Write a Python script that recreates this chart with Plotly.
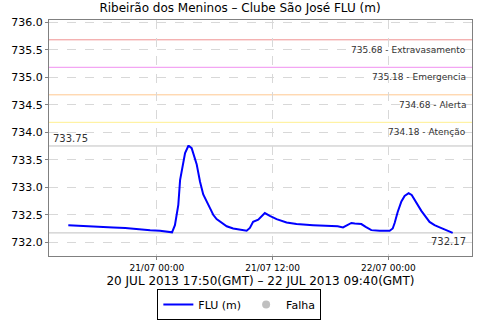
import plotly.graph_objects as go

# Local time (GMT-3) timestamps and FLU levels (m)
times = [
    "2013-07-20 14:50", "2013-07-20 15:45", "2013-07-20 17:37", "2013-07-20 19:29",
    "2013-07-20 20:44", "2013-07-20 22:16", "2013-07-20 23:19", "2013-07-21 00:20",
    "2013-07-21 00:58", "2013-07-21 01:23", "2013-07-21 01:35", "2013-07-21 01:53",
    "2013-07-21 02:04", "2013-07-21 02:14", "2013-07-21 02:25", "2013-07-21 02:41",
    "2013-07-21 02:56", "2013-07-21 03:16", "2013-07-21 03:20", "2013-07-21 03:37",
    "2013-07-21 03:58", "2013-07-21 04:08", "2013-07-21 04:29", "2013-07-21 04:49",
    "2013-07-21 05:31", "2013-07-21 05:51", "2013-07-21 06:12", "2013-07-21 06:53",
    "2013-07-21 07:15", "2013-07-21 07:55", "2013-07-21 08:37", "2013-07-21 09:08",
    "2013-07-21 09:19", "2013-07-21 09:39", "2013-07-21 09:59", "2013-07-21 10:31",
    "2013-07-21 10:58", "2013-07-21 11:12", "2013-07-21 11:43", "2013-07-21 12:25",
    "2013-07-21 13:27", "2013-07-21 14:29", "2013-07-21 16:12", "2013-07-21 17:56",
    "2013-07-21 18:45", "2013-07-21 19:18", "2013-07-21 20:10", "2013-07-21 20:31",
    "2013-07-21 21:12", "2013-07-21 21:39", "2013-07-21 22:14", "2013-07-21 23:06",
    "2013-07-22 00:08", "2013-07-22 00:27", "2013-07-22 00:39", "2013-07-22 00:58",
    "2013-07-22 01:21", "2013-07-22 01:41", "2013-07-22 02:06", "2013-07-22 02:25",
    "2013-07-22 02:43", "2013-07-22 03:25", "2013-07-22 04:16", "2013-07-22 04:47",
    "2013-07-22 05:19", "2013-07-22 06:02", "2013-07-22 06:40",
]
levels = [
    732.31, 732.30, 732.29, 732.27,
    732.26, 732.23, 732.22, 732.21,
    732.19, 732.18, 732.18, 732.31,
    732.47, 732.68, 733.13, 733.41,
    733.62, 733.75, 733.75, 733.71,
    733.50, 733.42, 733.10, 732.87,
    732.62, 732.50, 732.42, 732.33,
    732.29, 732.25, 732.23, 732.22,
    732.21, 732.26, 732.37, 732.41,
    732.50, 732.53, 732.48, 732.42,
    732.36, 732.33, 732.31, 732.30,
    732.29, 732.27, 732.35, 732.34,
    732.33, 732.28, 732.22, 732.21,
    732.21, 732.25, 732.35, 732.55,
    732.74, 732.84, 732.89, 732.86,
    732.78, 732.57, 732.37, 732.31,
    732.27, 732.22, 732.17,
]

threshold_values = [735.68, 735.18, 734.68, 734.18]
threshold_names = ["Extravasamento", "Emergencia", "Alerta", "Atenção"]
threshold_colors = ["#f09090", "#f090f0", "#ffc890", "#fff090"]

max_value = 733.75
min_value = 732.17

x_range = ["2013-07-20 12:50", "2013-07-22 08:40"]
y_range = [731.75, 736.04]

fig = go.Figure()
fig.add_trace(go.Scatter(
    x=times, y=levels, mode="lines", name="FLU (m)",
    line=dict(color="#0000ff", width=2),
))
fig.add_trace(go.Scatter(
    x=[None], y=[None], mode="markers", name="Falha",
    marker=dict(color="#c0c0c0", size=8),
))

for v, n, c in zip(threshold_values, threshold_names, threshold_colors):
    fig.add_shape(type="line", xref="paper", x0=0, x1=1, yref="y", y0=v, y1=v,
                  line=dict(color=c, width=1), layer="below")
    fig.add_annotation(xref="paper", x=0.99, yref="y", y=v, text=f"{v:.2f} - {n}",
                       showarrow=False, xanchor="right", yanchor="top", yshift=-3,
                       font=dict(family="DejaVu Sans", size=9, color="#333333"))

for v in [max_value, min_value]:
    fig.add_shape(type="line", xref="paper", x0=0, x1=1, yref="y", y0=v, y1=v,
                  line=dict(color="#c0c0c0", width=1), layer="below")
fig.add_annotation(xref="paper", x=0.005, yref="y", y=max_value, text=f"{max_value:.2f}",
                   showarrow=False, xanchor="left", yanchor="bottom", yshift=0,
                   font=dict(family="DejaVu Sans", size=10, color="#333333"))
fig.add_annotation(xref="paper", x=0.99, yref="y", y=min_value, text=f"{min_value:.2f}",
                   showarrow=False, xanchor="right", yanchor="top", yshift=-1,
                   font=dict(family="DejaVu Sans", size=10, color="#333333"))

fig.update_layout(
    width=480, height=320,
    margin=dict(l=49, r=8, t=20, b=64, autoexpand=False),
    paper_bgcolor="white", plot_bgcolor="white",
    font=dict(family="DejaVu Sans", color="#000000"),
    title=dict(text="Ribeirão dos Meninos – Clube São José FLU (m)",
               x=0.5, xanchor="center", y=0.975, yanchor="middle",
               font=dict(size=12, color="#000000")),
    showlegend=True,
    legend=dict(orientation="h", x=0.45, xanchor="center", y=-0.205, yanchor="middle",
                bordercolor="#000000", borderwidth=1, bgcolor="white",
                font=dict(size=11), itemwidth=30, tracegroupgap=0),
    xaxis=dict(
        range=x_range, type="date",
        tick0="2013-07-21 00:00", dtick=43200000, tickformat="%d/%m %H:%M",
        tickfont=dict(size=9), ticks="outside", ticklen=3, tickcolor="#808080",
        showgrid=True, gridcolor="#d8d8d8", griddash="dash", gridwidth=1,
        showline=True, linecolor="#808080", linewidth=1, mirror=True,
        zeroline=False,
        title=dict(text="20 JUL 2013 17:50(GMT) – 22 JUL 2013 09:40(GMT)",
                   font=dict(size=12), standoff=4),
    ),
    yaxis=dict(
        range=y_range, dtick=0.5, tick0=732.0, tickformat=".1f",
        tickfont=dict(size=11), ticks="outside", ticklen=3, tickcolor="#808080",
        showgrid=True, gridcolor="#d8d8d8", griddash="dash", gridwidth=1,
        showline=True, linecolor="#808080", linewidth=1, mirror=True,
        zeroline=False,
    ),
)

fig.write_html("out.html")
